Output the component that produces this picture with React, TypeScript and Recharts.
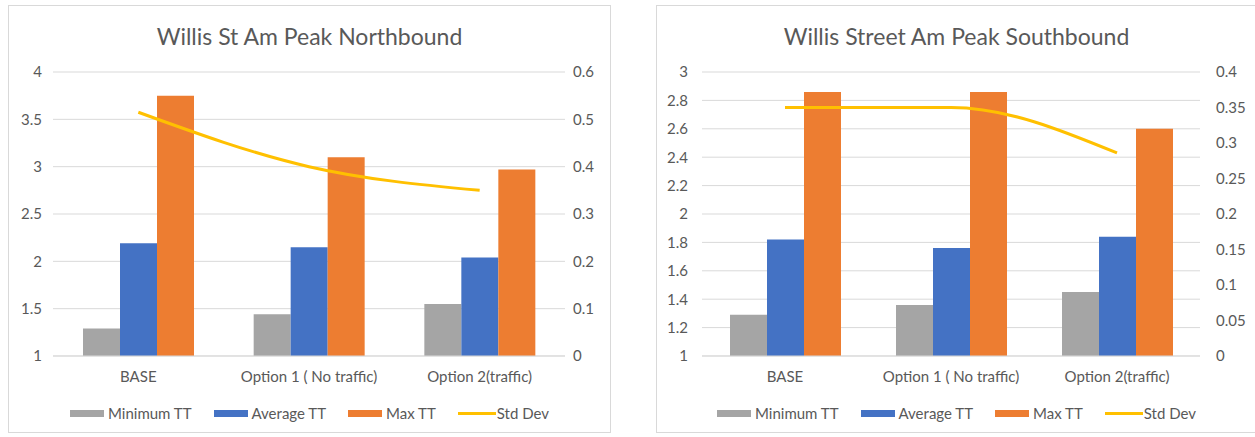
import React from 'react';
import { ComposedChart, Bar, Line, XAxis, YAxis, CartesianGrid } from 'recharts';

const categories = ['BASE', 'Option 1 ( No traffic)', 'Option 2(traffic)'];

// Northbound
const nbMin = [1.29, 1.44, 1.55];
const nbAvg = [2.19, 2.15, 2.04];
const nbMax = [3.75, 3.1, 2.97];
const nbStd = [0.515, 0.4, 0.35];
const nbLeftTicks = [1, 1.5, 2, 2.5, 3, 3.5, 4];
const nbRightTicks = [0, 0.1, 0.2, 0.3, 0.4, 0.5, 0.6];

// Southbound
const sbMin = [1.29, 1.36, 1.45];
const sbAvg = [1.82, 1.76, 1.84];
const sbMax = [2.86, 2.86, 2.6];
const sbStd = [0.35, 0.35, 0.286];
const sbLeftTicks = [1, 1.2, 1.4, 1.6, 1.8, 2, 2.2, 2.4, 2.6, 2.8, 3];
const sbRightTicks = [0, 0.05, 0.1, 0.15, 0.2, 0.25, 0.3, 0.35, 0.4];

const seriesNames = ['Minimum TT', 'Average TT', 'Max TT', 'Std Dev'];
const seriesColors = ['#a5a5a5', '#4472c4', '#ed7d31', '#ffc000'];

const FONT = 'Lato, "Open Sans", sans-serif';
const TEXT = '#595959';
const GRID = '#d9d9d9';

function buildData(mins: number[], avgs: number[], maxs: number[], stds: number[]) {
  return categories.map((c, i) => ({ name: c, min: mins[i], avg: avgs[i], max: maxs[i], std: stds[i] }));
}

function LegendRow() {
  return (
    <div style={{ position: 'absolute', top: 398, left: 0, width: '100%', display: 'flex', justifyContent: 'center', alignItems: 'center', fontFamily: FONT, fontSize: 15, color: TEXT, lineHeight: '18px' }}>
      {seriesNames.map((n, i) => (
        <div key={n} style={{ display: 'flex', alignItems: 'center', marginRight: i < 3 ? 22 : 0 }}>
          {i < 3 ? (
            <div style={{ width: 34, height: 7, background: seriesColors[i], marginRight: 4 }} />
          ) : (
            <div style={{ width: 38, height: 3, background: seriesColors[i], marginRight: 1 }} />
          )}
          <span>{n}</span>
        </div>
      ))}
    </div>
  );
}

type ChartProps = {
  left: number;
  width: number;
  title: string;
  data: any[];
  leftTicks: number[];
  rightTicks: number[];
  leftAxisWidth: number;
  rightAxisWidth: number;
  leftMargin: number;
  rightMargin: number;
};

function Panel(p: ChartProps) {
  const innerW = p.width - 2;
  const innerH = 426;
  return (
    <div style={{ position: 'absolute', left: p.left, top: 5, width: innerW, height: innerH, border: `1px solid ${GRID}`, background: '#fff' }}>
      <div style={{ position: 'absolute', top: 17, left: 0, width: '100%', textAlign: 'center', fontFamily: FONT, fontSize: 23, color: TEXT, lineHeight: '26px' }}>
        {p.title}
      </div>
      <ComposedChart
        width={innerW}
        height={innerH}
        data={p.data}
        margin={{ top: 66, right: 0, left: 0, bottom: 46 }}
        barGap={0}
        style={{ fontFamily: FONT }}
      >
        <CartesianGrid yAxisId="left" vertical={false} stroke={GRID} strokeWidth={1} />
        <XAxis
          dataKey="name"
          tickLine={false}
          tickSize={0}
          tickMargin={15}
          height={30}
          axisLine={{ stroke: GRID }}
          tick={{ fill: TEXT, fontSize: 15, fontFamily: FONT }}
          interval={0}
        />
        <YAxis
          yAxisId="left"
          orientation="left"
          domain={[p.leftTicks[0], p.leftTicks[p.leftTicks.length - 1]]}
          ticks={p.leftTicks}
          width={p.leftAxisWidth}
          axisLine={false}
          tickLine={false}
          tickSize={0}
          tickMargin={p.leftMargin}
          interval={0}
          tick={{ fill: TEXT, fontSize: 15, fontFamily: FONT }}
        />
        <YAxis
          yAxisId="right"
          orientation="right"
          domain={[p.rightTicks[0], p.rightTicks[p.rightTicks.length - 1]]}
          ticks={p.rightTicks}
          width={p.rightAxisWidth}
          axisLine={false}
          tickLine={false}
          tickSize={0}
          tickMargin={p.rightMargin}
          interval={0}
          tick={{ fill: TEXT, fontSize: 15, fontFamily: FONT, textAnchor: 'start' }}
        />
        <Bar yAxisId="left" dataKey="min" name={seriesNames[0]} fill={seriesColors[0]} barSize={37} isAnimationActive={false} />
        <Bar yAxisId="left" dataKey="avg" name={seriesNames[1]} fill={seriesColors[1]} barSize={37} isAnimationActive={false} />
        <Bar yAxisId="left" dataKey="max" name={seriesNames[2]} fill={seriesColors[2]} barSize={37} isAnimationActive={false} />
        <Line yAxisId="right" type="monotone" dataKey="std" name={seriesNames[3]} stroke={seriesColors[3]} strokeWidth={3} dot={false} isAnimationActive={false} />
      </ComposedChart>
      <LegendRow />
    </div>
  );
}

export default function App() {
  const nbData = buildData(nbMin, nbAvg, nbMax, nbStd);
  const sbData = buildData(sbMin, sbAvg, sbMax, sbStd);
  return (
    <div style={{ position: 'absolute', left: 0, top: 0, width: 1255, height: 437, background: '#fff', overflow: 'hidden' }}>
      <Panel
        left={8}
        width={603}
        title="Willis St Am Peak Northbound"
        data={nbData}
        leftTicks={nbLeftTicks}
        rightTicks={nbRightTicks}
        leftAxisWidth={44}
        rightAxisWidth={45}
        leftMargin={11}
        rightMargin={8}
      />
      <Panel
        left={656}
        width={601}
        title="Willis Street Am Peak Southbound"
        data={sbData}
        leftTicks={sbLeftTicks}
        rightTicks={sbRightTicks}
        leftAxisWidth={45}
        rightAxisWidth={56}
        leftMargin={14}
        rightMargin={16}
      />
    </div>
  );
}
